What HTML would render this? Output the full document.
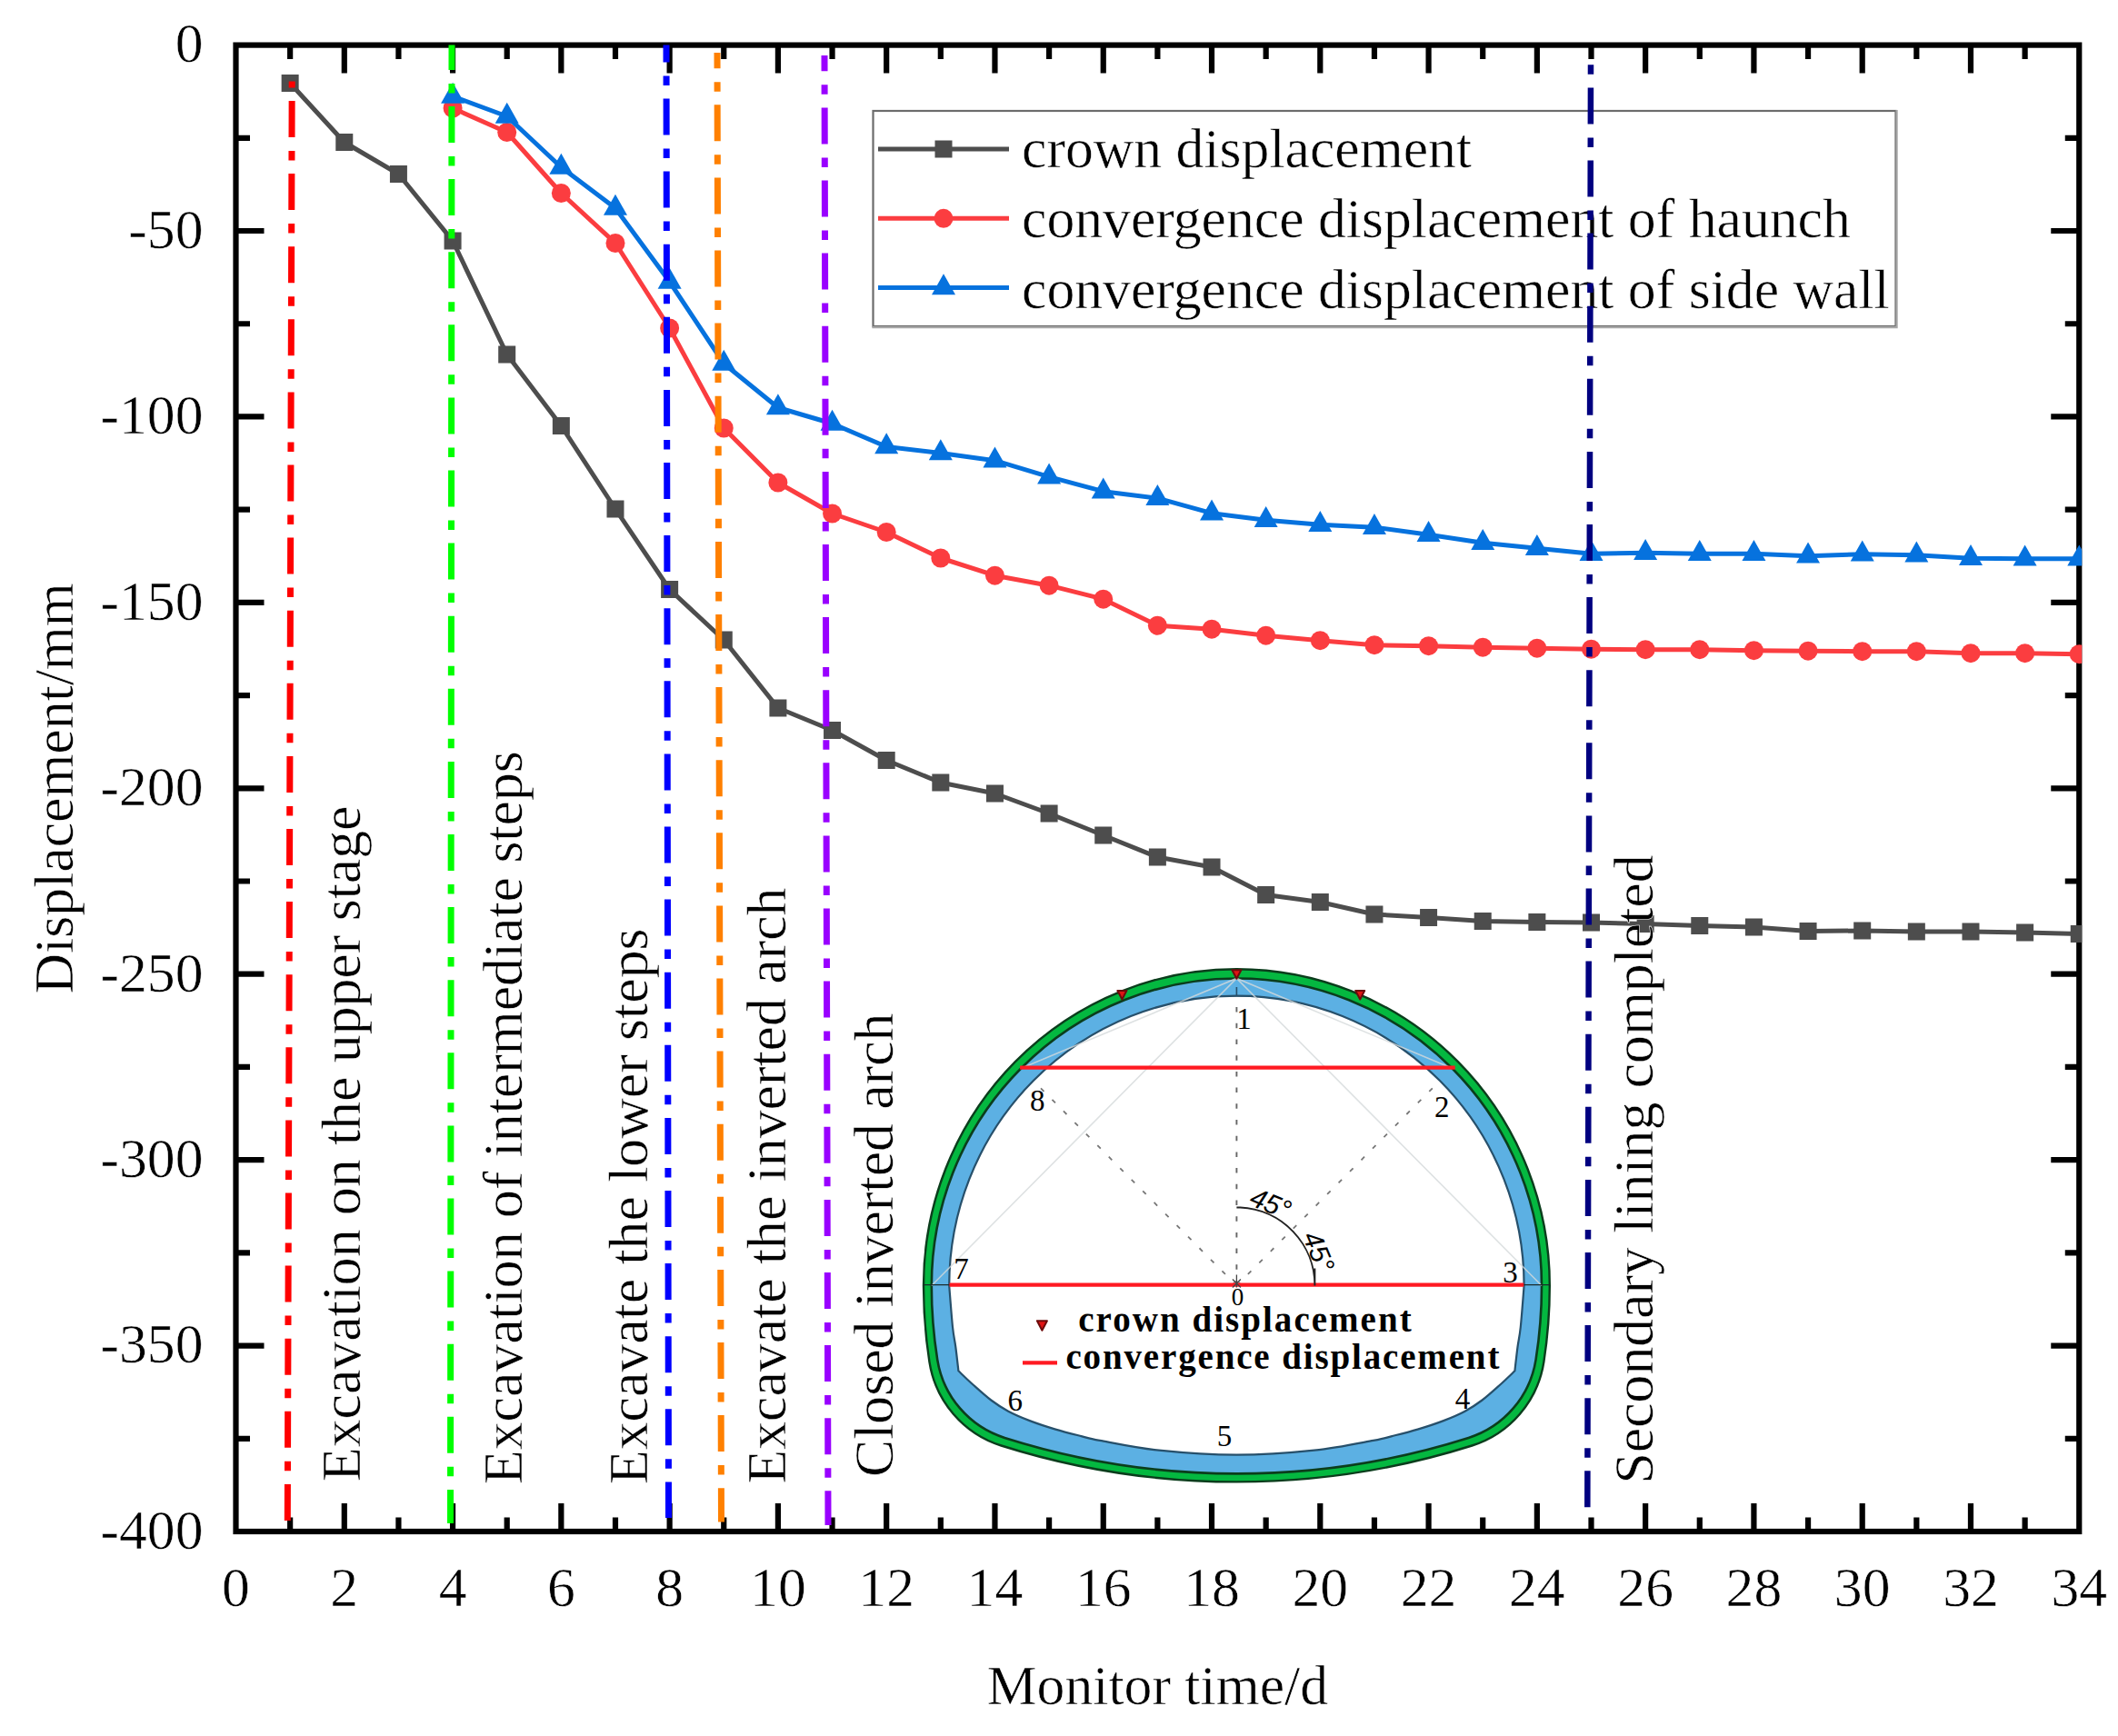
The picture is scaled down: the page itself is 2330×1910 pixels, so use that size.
<!DOCTYPE html>
<html lang="en"><head><meta charset="utf-8"><title>Displacement vs. monitor time</title>
<style>html,body{margin:0;padding:0;background:#fff}svg{display:block}text{font-family:"Liberation Serif", serif;fill:#000}.t{stroke:#fff;stroke-width:0.55px}</style></head><body>
<svg width="2330" height="1910" viewBox="0 0 2330 1910">
<rect width="2330" height="1910" fill="#fff"/>
<defs><clipPath id="pc"><rect x="259.5" y="49.6" width="2030.76" height="1635.4"/></clipPath></defs>
<path d="M319.14 49.6 v15.5 M319.14 1685 v-15.5 M378.78 49.6 v31 M378.78 1685 v-31 M438.42 49.6 v15.5 M438.42 1685 v-15.5 M498.06 49.6 v31 M498.06 1685 v-31 M557.7 49.6 v15.5 M557.7 1685 v-15.5 M617.34 49.6 v31 M617.34 1685 v-31 M676.98 49.6 v15.5 M676.98 1685 v-15.5 M736.62 49.6 v31 M736.62 1685 v-31 M796.26 49.6 v15.5 M796.26 1685 v-15.5 M855.9 49.6 v31 M855.9 1685 v-31 M915.54 49.6 v15.5 M915.54 1685 v-15.5 M975.18 49.6 v31 M975.18 1685 v-31 M1034.82 49.6 v15.5 M1034.82 1685 v-15.5 M1094.46 49.6 v31 M1094.46 1685 v-31 M1154.1 49.6 v15.5 M1154.1 1685 v-15.5 M1213.74 49.6 v31 M1213.74 1685 v-31 M1273.38 49.6 v15.5 M1273.38 1685 v-15.5 M1333.02 49.6 v31 M1333.02 1685 v-31 M1392.66 49.6 v15.5 M1392.66 1685 v-15.5 M1452.3 49.6 v31 M1452.3 1685 v-31 M1511.94 49.6 v15.5 M1511.94 1685 v-15.5 M1571.58 49.6 v31 M1571.58 1685 v-31 M1631.22 49.6 v15.5 M1631.22 1685 v-15.5 M1690.86 49.6 v31 M1690.86 1685 v-31 M1750.5 49.6 v15.5 M1750.5 1685 v-15.5 M1810.14 49.6 v31 M1810.14 1685 v-31 M1869.78 49.6 v15.5 M1869.78 1685 v-15.5 M1929.42 49.6 v31 M1929.42 1685 v-31 M1989.06 49.6 v15.5 M1989.06 1685 v-15.5 M2048.7 49.6 v31 M2048.7 1685 v-31 M2108.34 49.6 v15.5 M2108.34 1685 v-15.5 M2167.98 49.6 v31 M2167.98 1685 v-31 M2227.62 49.6 v15.5 M2227.62 1685 v-15.5 M259.5 151.81 h15.5 M2287.26 151.81 h-15.5 M259.5 254.02 h31 M2287.26 254.02 h-31 M259.5 356.24 h15.5 M2287.26 356.24 h-15.5 M259.5 458.45 h31 M2287.26 458.45 h-31 M259.5 560.66 h15.5 M2287.26 560.66 h-15.5 M259.5 662.88 h31 M2287.26 662.88 h-31 M259.5 765.09 h15.5 M2287.26 765.09 h-15.5 M259.5 867.3 h31 M2287.26 867.3 h-31 M259.5 969.51 h15.5 M2287.26 969.51 h-15.5 M259.5 1071.72 h31 M2287.26 1071.72 h-31 M259.5 1173.94 h15.5 M2287.26 1173.94 h-15.5 M259.5 1276.15 h31 M2287.26 1276.15 h-31 M259.5 1378.36 h15.5 M2287.26 1378.36 h-15.5 M259.5 1480.57 h31 M2287.26 1480.57 h-31 M259.5 1582.79 h15.5 M2287.26 1582.79 h-15.5" stroke="#000" stroke-width="6.2" fill="none"/>
<rect x="259.5" y="49.6" width="2027.76" height="1635.4" fill="none" stroke="#000" stroke-width="6.2"/>
<g class="t" font-size="61.7" text-anchor="middle">
<text x="259.5" y="1767">0</text>
<text x="378.78" y="1767">2</text>
<text x="498.06" y="1767">4</text>
<text x="617.34" y="1767">6</text>
<text x="736.62" y="1767">8</text>
<text x="855.9" y="1767">10</text>
<text x="975.18" y="1767">12</text>
<text x="1094.46" y="1767">14</text>
<text x="1213.74" y="1767">16</text>
<text x="1333.02" y="1767">18</text>
<text x="1452.3" y="1767">20</text>
<text x="1571.58" y="1767">22</text>
<text x="1690.86" y="1767">24</text>
<text x="1810.14" y="1767">26</text>
<text x="1929.42" y="1767">28</text>
<text x="2048.7" y="1767">30</text>
<text x="2167.98" y="1767">32</text>
<text x="2287.26" y="1767">34</text>
</g>
<g class="t" font-size="61.7" text-anchor="end">
<text x="223.5" y="68.4">0</text>
<text x="223.5" y="272.82">-50</text>
<text x="223.5" y="477.25">-100</text>
<text x="223.5" y="681.67">-150</text>
<text x="223.5" y="886.1">-200</text>
<text x="223.5" y="1090.52">-250</text>
<text x="223.5" y="1294.95">-300</text>
<text x="223.5" y="1499.37">-350</text>
<text x="223.5" y="1703.8">-400</text>
</g>
<text class="t" x="1273.38" y="1875" font-size="61.7" text-anchor="middle">Monitor time/d</text>
<text class="t" transform="translate(79.5 867.3) rotate(-90)" font-size="61.7" text-anchor="middle">Displacement/mm</text>
<rect x="960.5" y="122" width="1125" height="237" fill="#fff" stroke="#6c6c6c" stroke-width="2.2"/>
<path d="M2086.6 121 V360.2 H959.4" fill="none" stroke="#a6a6a6" stroke-width="2.2"/>
<path d="M966 164 H1110" stroke="#4d4d4d" stroke-width="5" fill="none"/>
<rect x="1028.5" y="154.5" width="19" height="19" fill="#4d4d4d"/>
<text class="t" x="1124" y="184" font-size="61.7">crown displacement</text>
<path d="M966 240.3 H1110" stroke="#fb3d40" stroke-width="5" fill="none"/>
<circle cx="1038" cy="240.3" r="10.5" fill="#fb3d40"/>
<text class="t" x="1124" y="261.29" font-size="61.7">convergence displacement of haunch</text>
<path d="M966 316.6 H1110" stroke="#0672de" stroke-width="5" fill="none"/>
<path d="M1038 301.3 l13 23 h-26z" fill="#0672de"/>
<text class="t" x="1124" y="338.58" font-size="61.7">convergence displacement of side wall</text>
<g clip-path="url(#pc)">
<polyline points="319.14,91.5 378.78,156.5 438.42,191.5 498.06,265 557.7,390 617.34,468.5 676.98,560 736.62,648.5 796.26,704 855.9,779 915.54,803.5 975.18,836.5 1034.82,861 1094.46,873 1154.1,895 1213.74,919 1273.38,943 1333.02,954 1392.66,984.5 1452.3,992.5 1511.94,1006 1571.58,1009.5 1631.22,1013.5 1690.86,1014.5 1750.5,1015 1810.14,1016.5 1869.78,1018.5 1929.42,1020 1989.06,1024.5 2048.7,1024 2108.34,1025 2167.98,1025 2227.62,1026 2287.26,1027.5" fill="none" stroke="#4d4d4d" stroke-width="5" stroke-linejoin="round"/>
<rect x="309.64" y="82" width="19" height="19" fill="#4d4d4d"/>
<rect x="369.28" y="147" width="19" height="19" fill="#4d4d4d"/>
<rect x="428.92" y="182" width="19" height="19" fill="#4d4d4d"/>
<rect x="488.56" y="255.5" width="19" height="19" fill="#4d4d4d"/>
<rect x="548.2" y="380.5" width="19" height="19" fill="#4d4d4d"/>
<rect x="607.84" y="459" width="19" height="19" fill="#4d4d4d"/>
<rect x="667.48" y="550.5" width="19" height="19" fill="#4d4d4d"/>
<rect x="727.12" y="639" width="19" height="19" fill="#4d4d4d"/>
<rect x="786.76" y="694.5" width="19" height="19" fill="#4d4d4d"/>
<rect x="846.4" y="769.5" width="19" height="19" fill="#4d4d4d"/>
<rect x="906.04" y="794" width="19" height="19" fill="#4d4d4d"/>
<rect x="965.68" y="827" width="19" height="19" fill="#4d4d4d"/>
<rect x="1025.32" y="851.5" width="19" height="19" fill="#4d4d4d"/>
<rect x="1084.96" y="863.5" width="19" height="19" fill="#4d4d4d"/>
<rect x="1144.6" y="885.5" width="19" height="19" fill="#4d4d4d"/>
<rect x="1204.24" y="909.5" width="19" height="19" fill="#4d4d4d"/>
<rect x="1263.88" y="933.5" width="19" height="19" fill="#4d4d4d"/>
<rect x="1323.52" y="944.5" width="19" height="19" fill="#4d4d4d"/>
<rect x="1383.16" y="975" width="19" height="19" fill="#4d4d4d"/>
<rect x="1442.8" y="983" width="19" height="19" fill="#4d4d4d"/>
<rect x="1502.44" y="996.5" width="19" height="19" fill="#4d4d4d"/>
<rect x="1562.08" y="1000" width="19" height="19" fill="#4d4d4d"/>
<rect x="1621.72" y="1004" width="19" height="19" fill="#4d4d4d"/>
<rect x="1681.36" y="1005" width="19" height="19" fill="#4d4d4d"/>
<rect x="1741" y="1005.5" width="19" height="19" fill="#4d4d4d"/>
<rect x="1800.64" y="1007" width="19" height="19" fill="#4d4d4d"/>
<rect x="1860.28" y="1009" width="19" height="19" fill="#4d4d4d"/>
<rect x="1919.92" y="1010.5" width="19" height="19" fill="#4d4d4d"/>
<rect x="1979.56" y="1015" width="19" height="19" fill="#4d4d4d"/>
<rect x="2039.2" y="1014.5" width="19" height="19" fill="#4d4d4d"/>
<rect x="2098.84" y="1015.5" width="19" height="19" fill="#4d4d4d"/>
<rect x="2158.48" y="1015.5" width="19" height="19" fill="#4d4d4d"/>
<rect x="2218.12" y="1016.5" width="19" height="19" fill="#4d4d4d"/>
<rect x="2277.76" y="1018" width="19" height="19" fill="#4d4d4d"/>
<polyline points="498.06,119 557.7,145.5 617.34,212.5 676.98,267.5 736.62,361 796.26,471 855.9,531 915.54,565 975.18,585.5 1034.82,614 1094.46,633.2 1154.1,644.2 1213.74,659.2 1273.38,688.2 1333.02,692.2 1392.66,699.2 1452.3,704.7 1511.94,709.7 1571.58,710.7 1631.22,712.2 1690.86,713.2 1750.5,714.2 1810.14,714.7 1869.78,714.7 1929.42,715.7 1989.06,716.2 2048.7,716.7 2108.34,716.7 2167.98,718.7 2227.62,718.7 2287.26,719.7" fill="none" stroke="#fb3d40" stroke-width="5" stroke-linejoin="round"/>
<circle cx="498.06" cy="119" r="10.5" fill="#fb3d40"/>
<circle cx="557.7" cy="145.5" r="10.5" fill="#fb3d40"/>
<circle cx="617.34" cy="212.5" r="10.5" fill="#fb3d40"/>
<circle cx="676.98" cy="267.5" r="10.5" fill="#fb3d40"/>
<circle cx="736.62" cy="361" r="10.5" fill="#fb3d40"/>
<circle cx="796.26" cy="471" r="10.5" fill="#fb3d40"/>
<circle cx="855.9" cy="531" r="10.5" fill="#fb3d40"/>
<circle cx="915.54" cy="565" r="10.5" fill="#fb3d40"/>
<circle cx="975.18" cy="585.5" r="10.5" fill="#fb3d40"/>
<circle cx="1034.82" cy="614" r="10.5" fill="#fb3d40"/>
<circle cx="1094.46" cy="633.2" r="10.5" fill="#fb3d40"/>
<circle cx="1154.1" cy="644.2" r="10.5" fill="#fb3d40"/>
<circle cx="1213.74" cy="659.2" r="10.5" fill="#fb3d40"/>
<circle cx="1273.38" cy="688.2" r="10.5" fill="#fb3d40"/>
<circle cx="1333.02" cy="692.2" r="10.5" fill="#fb3d40"/>
<circle cx="1392.66" cy="699.2" r="10.5" fill="#fb3d40"/>
<circle cx="1452.3" cy="704.7" r="10.5" fill="#fb3d40"/>
<circle cx="1511.94" cy="709.7" r="10.5" fill="#fb3d40"/>
<circle cx="1571.58" cy="710.7" r="10.5" fill="#fb3d40"/>
<circle cx="1631.22" cy="712.2" r="10.5" fill="#fb3d40"/>
<circle cx="1690.86" cy="713.2" r="10.5" fill="#fb3d40"/>
<circle cx="1750.5" cy="714.2" r="10.5" fill="#fb3d40"/>
<circle cx="1810.14" cy="714.7" r="10.5" fill="#fb3d40"/>
<circle cx="1869.78" cy="714.7" r="10.5" fill="#fb3d40"/>
<circle cx="1929.42" cy="715.7" r="10.5" fill="#fb3d40"/>
<circle cx="1989.06" cy="716.2" r="10.5" fill="#fb3d40"/>
<circle cx="2048.7" cy="716.7" r="10.5" fill="#fb3d40"/>
<circle cx="2108.34" cy="716.7" r="10.5" fill="#fb3d40"/>
<circle cx="2167.98" cy="718.7" r="10.5" fill="#fb3d40"/>
<circle cx="2227.62" cy="718.7" r="10.5" fill="#fb3d40"/>
<circle cx="2287.26" cy="719.7" r="10.5" fill="#fb3d40"/>
<polyline points="498.06,106 557.7,128 617.34,184 676.98,229 736.62,310 796.26,400 855.9,448.5 915.54,466 975.18,491.5 1034.82,498.5 1094.46,506.7 1154.1,524.7 1213.74,540.7 1273.38,548.2 1333.02,564.7 1392.66,572.2 1452.3,577.2 1511.94,580.2 1571.58,588.2 1631.22,597.2 1690.86,603.2 1750.5,609.2 1810.14,608.2 1869.78,609.2 1929.42,609.2 1989.06,611.7 2048.7,609.7 2108.34,610.7 2167.98,614.2 2227.62,614.7 2287.26,614.7" fill="none" stroke="#0672de" stroke-width="5" stroke-linejoin="round"/>
<path d="M498.06 90.7 l13 23 h-26z" fill="#0672de"/>
<path d="M557.7 112.7 l13 23 h-26z" fill="#0672de"/>
<path d="M617.34 168.7 l13 23 h-26z" fill="#0672de"/>
<path d="M676.98 213.7 l13 23 h-26z" fill="#0672de"/>
<path d="M736.62 294.7 l13 23 h-26z" fill="#0672de"/>
<path d="M796.26 384.7 l13 23 h-26z" fill="#0672de"/>
<path d="M855.9 433.2 l13 23 h-26z" fill="#0672de"/>
<path d="M915.54 450.7 l13 23 h-26z" fill="#0672de"/>
<path d="M975.18 476.2 l13 23 h-26z" fill="#0672de"/>
<path d="M1034.82 483.2 l13 23 h-26z" fill="#0672de"/>
<path d="M1094.46 491.4 l13 23 h-26z" fill="#0672de"/>
<path d="M1154.1 509.4 l13 23 h-26z" fill="#0672de"/>
<path d="M1213.74 525.4 l13 23 h-26z" fill="#0672de"/>
<path d="M1273.38 532.9 l13 23 h-26z" fill="#0672de"/>
<path d="M1333.02 549.4 l13 23 h-26z" fill="#0672de"/>
<path d="M1392.66 556.9 l13 23 h-26z" fill="#0672de"/>
<path d="M1452.3 561.9 l13 23 h-26z" fill="#0672de"/>
<path d="M1511.94 564.9 l13 23 h-26z" fill="#0672de"/>
<path d="M1571.58 572.9 l13 23 h-26z" fill="#0672de"/>
<path d="M1631.22 581.9 l13 23 h-26z" fill="#0672de"/>
<path d="M1690.86 587.9 l13 23 h-26z" fill="#0672de"/>
<path d="M1750.5 593.9 l13 23 h-26z" fill="#0672de"/>
<path d="M1810.14 592.9 l13 23 h-26z" fill="#0672de"/>
<path d="M1869.78 593.9 l13 23 h-26z" fill="#0672de"/>
<path d="M1929.42 593.9 l13 23 h-26z" fill="#0672de"/>
<path d="M1989.06 596.4 l13 23 h-26z" fill="#0672de"/>
<path d="M2048.7 594.4 l13 23 h-26z" fill="#0672de"/>
<path d="M2108.34 595.4 l13 23 h-26z" fill="#0672de"/>
<path d="M2167.98 598.9 l13 23 h-26z" fill="#0672de"/>
<path d="M2227.62 599.4 l13 23 h-26z" fill="#0672de"/>
<path d="M2287.26 599.4 l13 23 h-26z" fill="#0672de"/>
</g>
<g class="t" font-size="61.7">
<text transform="translate(395.5 1630) rotate(-90)">Excavation on the upper stage</text>
<text transform="translate(573.5 1633) rotate(-90)">Excavation of intermediate steps</text>
<text transform="translate(712 1633) rotate(-90)">Excavate the lower steps</text>
<text transform="translate(863.5 1632.5) rotate(-90)">Excavate the inverted arch</text>
<text transform="translate(981.5 1625) rotate(-90)">Closed inverted arch</text>
<text transform="translate(1817.5 1632.5) rotate(-90)">Secondary lining completed</text>
</g>
<path d="M321.2 89.5 L316.3 1673" stroke="#ff0000" stroke-width="7" fill="none" stroke-dasharray="40 15 10.5 14.6" stroke-dashoffset="58.6"/>
<path d="M497 49.5 L495.5 1676" stroke="#00ff00" stroke-width="7" fill="none" stroke-dasharray="40 15 10.5 14.6" stroke-dashoffset="12.6"/>
<path d="M733 49.5 L735.5 1670" stroke="#0000ff" stroke-width="7" fill="none" stroke-dasharray="40 15 10.5 14.6" stroke-dashoffset="21.1"/>
<path d="M789 58 L793.5 1674.5" stroke="#ff8000" stroke-width="7" fill="none" stroke-dasharray="40 15 10.5 14.6" stroke-dashoffset="22.8"/>
<path d="M907 61 L911 1678" stroke="#9900ff" stroke-width="7" fill="none" stroke-dasharray="40 15 10.5 14.6" stroke-dashoffset="22.7"/>
<path d="M1750 70 L1746.3 1660" stroke="#000080" stroke-width="6.5" fill="none" stroke-dasharray="40 15 10.5 14.6" stroke-dashoffset="53.7"/>
<g id="tunnel">
<path d="M1016 1414.5 A344.4 348.3 0 0 1 1704.8 1414.5 A550 550 0 0 1 1698.37 1498.36 A115 115 0 0 1 1619.34 1590.49 A860 860 0 0 1 1101.46 1590.49 A115 115 0 0 1 1022.43 1498.36 A550 550 0 0 1 1016 1414.5 Z" fill="#04b840" stroke="#0b3d1c" stroke-width="2.4"/>
<path d="M1024.8 1414.5 A335.6 338.1 0 0 1 1696 1414.5 A520 520 0 0 1 1689.59 1495.91 A108 108 0 0 1 1615.53 1581.97 A845 845 0 0 1 1105.27 1581.97 A108 108 0 0 1 1031.21 1495.91 A520 520 0 0 1 1024.8 1414.5 Z" fill="#5cb0e3" stroke="#0b3d1c" stroke-width="2.6"/>
<path d="M1044.2 1414.5 A316.2 318.8 0 0 1 1676.6 1414.5 C1675.97 1422.08 1673.98 1448.75 1672.8 1460 C1671.62 1471.25 1670.57 1473.95 1669.5 1482 C1668.43 1490.05 1666.92 1503.92 1666.4 1508.3 C1663.72 1510.83 1656.28 1518.13 1650.3 1523.5 C1644.32 1528.87 1636.95 1535.63 1630.5 1540.5 C1624.05 1545.37 1618.68 1548.93 1611.6 1552.7 C1604.52 1556.47 1596.67 1559.78 1588 1563.1 C1579.33 1566.42 1569.05 1569.77 1559.6 1572.6 C1550.15 1575.43 1539.43 1578.05 1531.3 1580.1 C1523.17 1582.15 1525.05 1582.3 1510.8 1584.9 C1496.55 1587.5 1470.87 1593.07 1445.8 1595.7 C1420.73 1598.33 1388.87 1600.7 1360.4 1600.7 C1331.93 1600.7 1300.07 1598.33 1275 1595.7 C1249.93 1593.07 1224.25 1587.5 1210 1584.9 C1195.75 1582.3 1197.63 1582.15 1189.5 1580.1 C1181.37 1578.05 1170.65 1575.43 1161.2 1572.6 C1151.75 1569.77 1141.47 1566.42 1132.8 1563.1 C1124.13 1559.78 1116.28 1556.47 1109.2 1552.7 C1102.12 1548.93 1096.75 1545.37 1090.3 1540.5 C1083.85 1535.63 1076.48 1528.87 1070.5 1523.5 C1064.52 1518.13 1057.08 1510.83 1054.4 1508.3 C1053.88 1503.92 1052.37 1490.05 1051.3 1482 C1050.23 1473.95 1049.18 1471.25 1048 1460 C1046.82 1448.75 1044.83 1422.08 1044.2 1414.5 Z" fill="#fff" stroke="#27506b" stroke-width="2.2"/>
<path d="M1024.8 1414.5 L1360.4 1076.4 L1696 1414.5 M1123.09 1175.43 L1360.4 1076.4 L1597.71 1175.43" fill="none" stroke="#d5d9db" stroke-width="1.6" opacity="0.8"/>
<path d="M1360.4 1414.5 V1099" fill="none" stroke="#666" stroke-width="1.9" stroke-dasharray="5.5 12.2"/>
<path d="M1360.4 1414.5 L1583.99 1189.07 M1360.4 1414.5 L1136.81 1189.07" fill="none" stroke="#777" stroke-width="1.8" stroke-dasharray="5 12.7"/>
<path d="M1360.4 1086 V1096 M1343 1095.7 H1378" stroke="#27506b" stroke-width="1.6" fill="none"/>
<path d="M1016 1413.6 H1705" stroke="#1a2a2a" stroke-width="1.4"/>
<path d="M1044.5 1413.6 H1676.3" stroke="#ff1a22" stroke-width="4.2"/>
<path d="M1122.09 1174.7 H1600.71" stroke="#ff1a22" stroke-width="4.2"/>
<path d="M1360.4 1328.5 H1364.4 A86 86 0 0 1 1446.4 1414.5 M1446.4 1414.5 v-19" fill="none" stroke="#222" stroke-width="1.9"/>
<path d="M1355.9 1407.5 l9 9 M1364.9 1407.5 l-9 9 M1360.4 1402.5 v14" stroke="#444" stroke-width="1.3" fill="none"/>
<path d="M1355.4 1067.2 h10 l-5 9.5z" fill="#e01414" stroke="#6d0b0b" stroke-width="2" stroke-linejoin="round"/>
<path d="M1229.4 1090 h10 l-5 9.5z" fill="#e01414" stroke="#6d0b0b" stroke-width="2" stroke-linejoin="round"/>
<path d="M1491.2 1090 h10 l-5 9.5z" fill="#e01414" stroke="#6d0b0b" stroke-width="2" stroke-linejoin="round"/>
<path d="M1140.9 1453.2 h11 l-5.5 10.5z" fill="#e01414" stroke="#6d0b0b" stroke-width="2" stroke-linejoin="round"/>
<path d="M1125 1499.3 H1163" stroke="#ff1a22" stroke-width="4.2"/>
<g font-size="33" text-anchor="middle" fill="#111">
<text x="1368.6" y="1131.7">1</text>
<text x="1586.2" y="1229">2</text>
<text x="1661.4" y="1411">3</text>
<text x="1609" y="1549.8">4</text>
<text x="1347" y="1590.5">5</text>
<text x="1116.7" y="1552.3">6</text>
<text x="1057.6" y="1407.2">7</text>
<text x="1141.3" y="1222.4">8</text>
<text x="1361.5" y="1436.3" font-size="27">0</text>
</g>
<text transform="translate(1393.88 1333.66) rotate(22.5)" font-size="30" font-style="italic" text-anchor="middle" style="font-family:'Liberation Sans', sans-serif" fill="#222">45°</text>
<text transform="translate(1441.24 1381.02) rotate(67.5)" font-size="30" font-style="italic" text-anchor="middle" style="font-family:'Liberation Sans', sans-serif" fill="#222">45°</text>
<g font-size="39" font-weight="bold">
<text x="1186.2" y="1464.6" textLength="366.5" lengthAdjust="spacing">crown displacement</text>
<text x="1172.4" y="1505.8" textLength="477" lengthAdjust="spacing">convergence displacement</text>
</g>
</g>
</svg></body></html>
